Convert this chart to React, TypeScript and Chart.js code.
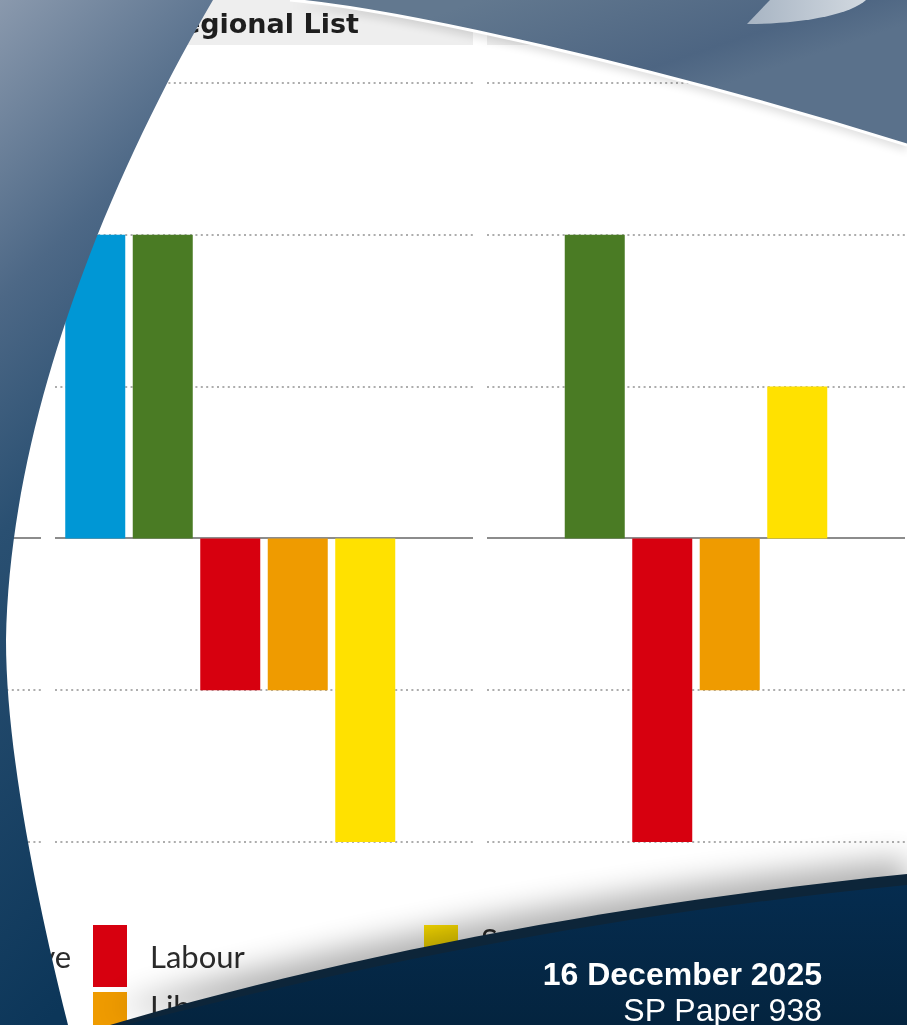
import { useEffect, useRef } from "react";
import { Chart, registerables } from "chart.js";

Chart.register(...registerables);

// ---------- data ----------
const panels = ["Constituency", "Regional List", "Total"];
const parties = ["Conservative", "Green", "Labour", "Liberal Democrat", "SNP", "Other"];
const legendLabels = ["Conservative", "Green", "Labour", "Liberal\nDemocrat", "Scottish National\nParty", "Other"];
const partyColors = ["#0097D5", "#4A7B24", "#D7000F", "#EF9B00", "#FFE100", "#9A9A9A"];
const conservativeChange = [-2, 2, 0];
const greenChange = [0, 2, 2];
const labourChange = [-1, -1, -2];
const libDemChange = [0, -1, -1];
const snpChange = [3, -2, 1];
const otherChange = [0, 0, 0];
const gridTicks = [3, 2, 1, 0, -1, -2];
const dateLine = "16 December 2025";
const paperLine = "SP Paper 938";

const seriesValues = [conservativeChange, greenChange, labourChange, libDemChange, snpChange, otherChange];

// ---------- layout ----------
const CANVAS_W = 1296;
const CANVAS_H = 1025;
const CANVAS_LEFT = -384;
const PANEL_HALF = 209;
const legendColX = [-164, 93, 424];
const legendRowY = [925, 992];

const panelPlugin = {
  id: "panelDecor",
  beforeDatasetsDraw(chart: any) {
    const { ctx, scales } = chart;
    const x = scales.x;
    const y = scales.y;
    ctx.save();
    panels.forEach((title, i) => {
      const cx = x.getPixelForValue(i);
      const x0 = cx - PANEL_HALF;
      const x1 = cx + PANEL_HALF;
      ctx.fillStyle = "#eeeeee";
      ctx.fillRect(x0, 0, x1 - x0, 45);
      ctx.fillStyle = "#1e1e1e";
      ctx.font = "bold 27px 'DejaVu Sans'";
      ctx.textAlign = "center";
      ctx.textBaseline = "alphabetic";
      ctx.fillText(title, cx - 4, 33);
      gridTicks.forEach((v) => {
        const py = Math.round(y.getPixelForValue(v));
        ctx.beginPath();
        if (v === 0) {
          ctx.setLineDash([]);
          ctx.strokeStyle = "#8c8c8c";
          ctx.lineWidth = 2;
        } else {
          ctx.setLineDash([2, 3.4]);
          ctx.strokeStyle = "#adadad";
          ctx.lineWidth = 2;
        }
        ctx.moveTo(x0, py);
        ctx.lineTo(x1, py);
        ctx.stroke();
      });
    });
    ctx.restore();
  },
};

const leftPath = "M0,0 L213,0 C125,150 10,400 6,640 C6,760 43,925 68,1025 L0,1025 Z";
const topPath = "M290,0 C400,10 650,65 907,145 L907,0 Z";
const topEdge = "M290,0 C400,10 650,65 907,145";
const crescentPath = "M770,0 L866,0 C850,15 800,24 747,24 Z";
const rimPath = "M110,1025 C330,960 600,905 907,874 L907,1025 Z";
const bottomPath = "M125,1025 C340,970 600,915 907,885 L907,1025 Z";

export default function App() {
  const canvasRef = useRef<HTMLCanvasElement | null>(null);

  useEffect(() => {
    if (!canvasRef.current) return;
    const chart = new Chart(canvasRef.current, {
      type: "bar",
      data: {
        labels: panels,
        datasets: parties.map((p, i) => ({
          label: p,
          data: seriesValues[i],
          backgroundColor: partyColors[i],
          borderWidth: 0,
          categoryPercentage: 0.9375,
          barPercentage: 0.889,
        })),
      },
      options: {
        responsive: false,
        animation: false,
        devicePixelRatio: 1,
        layout: { padding: { top: 83, bottom: 183, left: 0, right: 0 } },
        scales: {
          x: { display: false, grid: { display: false } },
          y: { display: false, min: -2, max: 3 },
        },
        plugins: {
          legend: { display: false },
          tooltip: { enabled: false },
        },
      },
      plugins: [panelPlugin],
    } as any);
    return () => chart.destroy();
  }, []);

  return (
    <div
      style={{
        position: "absolute",
        left: 0,
        top: 0,
        width: 907,
        height: 1025,
        overflow: "hidden",
        background: "#ffffff",
      }}
    >
      <canvas
        ref={canvasRef}
        width={CANVAS_W}
        height={CANVAS_H}
        style={{ position: "absolute", left: CANVAS_LEFT, top: 0, width: CANVAS_W, height: CANVAS_H }}
      />
      {parties.map((p, i) => {
        const col = Math.floor(i / 2);
        const row = i % 2;
        return (
          <div
            key={p}
            style={{
              position: "absolute",
              left: legendColX[col],
              top: legendRowY[row],
              height: 62,
              display: "flex",
              alignItems: "center",
              whiteSpace: "nowrap",
            }}
          >
            <div style={{ width: 34, height: 62, background: partyColors[i], marginRight: 23, flex: "none" }} />
            <span style={{ font: "31px 'Lato'", lineHeight: "34px", color: "#2b2b2b", whiteSpace: "pre-line" }}>
              {legendLabels[i]}
            </span>
          </div>
        );
      })}
      <svg width={907} height={1025} style={{ position: "absolute", left: 0, top: 0 }}>
        <defs>
          <linearGradient id="leftG" x1="0" y1="0" x2="0.2" y2="1">
            <stop offset="0" stopColor="#8a99ad" />
            <stop offset="0.28" stopColor="#4d6886" />
            <stop offset="0.5" stopColor="#2a5072" />
            <stop offset="1" stopColor="#0c3659" />
          </linearGradient>
          <linearGradient id="topG" gradientUnits="userSpaceOnUse" x1="600" y1="-40" x2="650" y2="110">
            <stop offset="0" stopColor="#62788f" />
            <stop offset="0.75" stopColor="#4d6582" />
            <stop offset="1" stopColor="#5a718b" />
          </linearGradient>
          <linearGradient id="crescG" x1="0" y1="0" x2="1" y2="0">
            <stop offset="0" stopColor="#a7b4c3" />
            <stop offset="1" stopColor="#d2d9e0" />
          </linearGradient>
          <linearGradient id="botG" x1="0" y1="0" x2="0" y2="1">
            <stop offset="0" stopColor="#052c4f" />
            <stop offset="1" stopColor="#04243f" />
          </linearGradient>
          <filter id="bigBlur" x="-20%" y="-60%" width="140%" height="220%">
            <feGaussianBlur stdDeviation="15" />
          </filter>
          <filter id="smallBlur" x="-10%" y="-50%" width="120%" height="200%">
            <feGaussianBlur stdDeviation="4" />
          </filter>
        </defs>
        <path d={rimPath} transform="translate(0,-16)" fill="#000" opacity="0.3" filter="url(#bigBlur)" />
        <path d={rimPath} fill="#0d2539" />
        <path d={bottomPath} fill="url(#botG)" />
        <path d={topPath} transform="translate(0,6)" fill="#000" opacity="0.12" filter="url(#smallBlur)" />
        <path d={topPath} fill="url(#topG)" />
        <path d={topEdge} fill="none" stroke="#ffffff" strokeWidth="3" />
        <path d={crescentPath} fill="url(#crescG)" />
        <path d={leftPath} fill="url(#leftG)" />
      </svg>
      <div
        style={{
          position: "absolute",
          right: 85,
          top: 958,
          font: "bold 32px 'Liberation Sans', Arial, sans-serif",
          lineHeight: "32px",
          color: "#ffffff",
          whiteSpace: "nowrap",
        }}
      >
        {dateLine}
      </div>
      <div
        style={{
          position: "absolute",
          right: 85,
          top: 994,
          font: "32px 'Liberation Sans', Arial, sans-serif",
          lineHeight: "32px",
          color: "#ffffff",
          whiteSpace: "nowrap",
        }}
      >
        {paperLine}
      </div>
    </div>
  );
}
